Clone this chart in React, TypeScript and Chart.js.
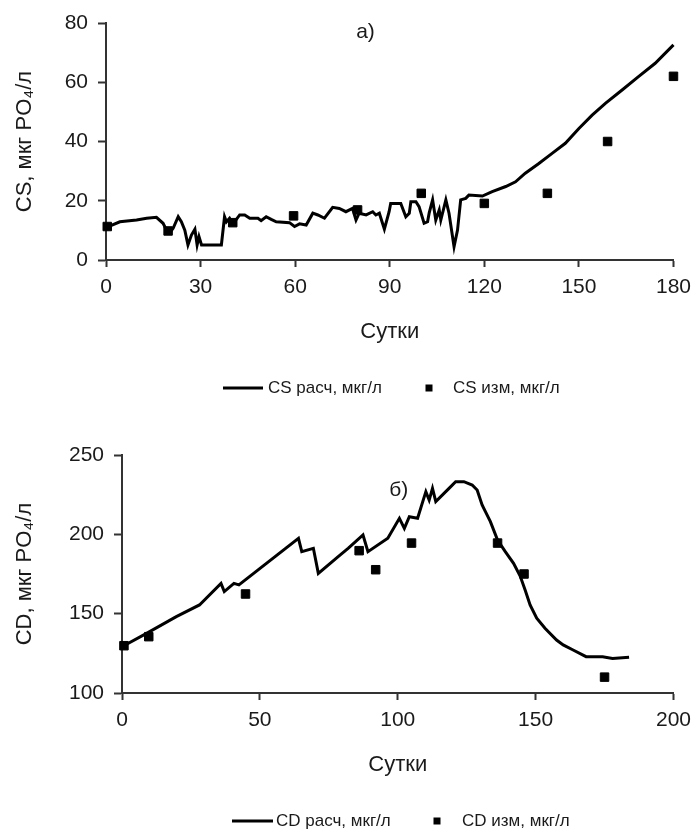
import React, { useEffect, useRef } from "react";
import { Chart, registerables } from "chart.js";

Chart.register(...registerables);

const FONT = "'Liberation Sans', Arial, Helvetica, sans-serif";
const TEXT_COLOR = "#1a1a1a";
const AXIS_COLOR = "#333333";

// ---- Panel a) CS ----
const csCalcDays = [
  0, 4.4, 9.7, 12.9, 16.0, 18.1, 19.2, 20.2, 21.3, 22.9, 23.9, 25.0, 26.0, 27.1, 28.2, 28.9, 29.5, 30.3,
  36.6, 37.6, 38.2, 39.2, 40.3, 42.4, 44.0, 45.6, 48.2, 49.2, 50.8, 52.4, 54.0, 58.2, 59.8, 61.4, 63.5,
  65.6, 67.2, 69.3, 71.9, 74.0, 76.1, 78.2, 79.3, 80.3, 82.5, 84.6, 85.6, 86.7, 88.3, 89.8, 90.3, 93.5,
  95.1, 96.2, 96.7, 98.3, 99.3, 100.9, 102.0, 102.5, 103.6, 104.6, 105.7, 106.2, 107.8, 108.8, 110.4,
  111.5, 112.5, 114.1, 115.1, 119.4, 122.5, 126.8, 129.9, 133.0, 137.3, 141.5, 145.7, 150.0, 154.2,
  158.4, 163.7, 168.9, 174.2, 180.0,
];
const csCalcValues = [
  10.9, 12.9, 13.5, 14.1, 14.4, 12.4, 10.1, 9.2, 10.7, 14.6, 12.9, 10.1, 5.1, 8.4, 10.4, 5.1, 7.9, 5.1,
  5.1, 14.6, 12.9, 14.1, 12.2, 15.2, 15.2, 14.1, 14.1, 13.3, 14.6, 13.7, 12.9, 12.6, 11.3, 12.2, 11.8,
  15.8, 15.2, 14.1, 17.8, 17.4, 16.3, 17.4, 13.5, 15.8, 15.2, 16.3, 15.2, 15.8, 10.4, 16.3, 19.1, 19.1,
  14.6, 15.8, 19.7, 19.7, 18.0, 12.4, 12.9, 15.8, 20.3, 13.5, 16.9, 13.5, 20.3, 15.8, 4.5,
  10.1, 20.3, 20.8, 21.9, 21.6, 23.1, 24.8, 26.4, 29.3, 32.6, 36.0, 39.4, 44.4, 48.9,
  52.9, 57.4, 61.9, 66.4, 72.6,
];
const csMeasDays = [0.4, 19.7, 40.2, 59.5, 79.8, 100, 120, 140, 159.1, 180];
const csMeasValues = [11.3, 9.8, 12.6, 14.9, 16.9, 22.5, 19.1, 22.5, 40, 62];

// ---- Panel б) CD ----
const cdCalcDays = [
  0.5, 8.9, 19.7, 28.1, 35.9, 37.1, 40.6, 42.4, 64.0, 65.2, 69.4, 71.2, 78.4, 82.0, 87.4, 89.2, 96.4,
  100.6, 102.4, 104.2, 107.2, 110.2, 111.4, 112.6, 113.8, 118.6, 121.0, 124.0, 127.0, 128.8, 130.6,
  131.8, 133.6, 136.2, 139.0, 142.0, 144.4, 146.2, 148.0, 150.4, 153.4, 157.6, 160.0, 163.6, 168.3,
  174.3, 177.9, 183.9,
];
const cdCalcValues = [
  129.6, 137.6, 148.1, 155.5, 169.1, 163.9, 169.1, 168.1, 197.5, 189.1, 191.2, 175.4, 185.9, 191.2, 199.6,
  189.1, 197.5, 210.1, 203.8, 211.1, 210.1, 226.9, 221.6, 229.0, 220.6, 229.0, 233.2, 233.2, 231.1, 227.9,
  218.5, 214.3, 208.0, 196.4, 189.1, 181.7, 173.7, 164.9, 155.5, 147.1, 140.8, 133.4, 130.3, 127.1, 122.9,
  122.9, 121.8, 122.5,
];
const cdMeasDays = [0.7, 9.7, 44.8, 86, 92, 105, 136.2, 145.8, 175];
const cdMeasValues = [129.8, 135.5, 162.4, 189.7, 177.7, 194.5, 194.5, 175, 110];

// ---- Texts ----
const xAxisTitle = "Сутки";
const csAxisTitle = "CS, мкг PO₄/л";
const cdAxisTitle = "CD, мкг PO₄/л";
const csLegendLabels = ["CS расч, мкг/л", "CS изм, мкг/л"];
const cdLegendLabels = ["CD расч, мкг/л", "CD изм, мкг/л"];
const csPanelLabel = "а)";
const cdPanelLabel = "б)";
const csPanelLabelPos = [82.3, 77.0];
const cdPanelLabelPos = [100.4, 228];

// ---- Axis ranges ----
const csXRange = [0, 180, 30];
const csYRange = [0, 80, 20];
const cdXRange = [0, 200, 50];
const cdYRange = [100, 250, 50];

const toPoints = (xs: number[], ys: number[]) => xs.map((x, i) => ({ x, y: ys[i] }));

const panelPlugin = {
  id: "panelExtras",
  afterDraw(chart: any) {
    const o = chart.options.plugins.panelExtras;
    if (!o) return;
    const ctx = chart.ctx;
    ctx.save();
    const xs = chart.scales.x;
    const ys = chart.scales.y;
    ctx.fillStyle = TEXT_COLOR;
    ctx.font = `21px ${FONT}`;
    ctx.textAlign = "center";
    ctx.textBaseline = "middle";
    ctx.fillText(o.panelLabel, xs.getPixelForValue(o.panelPos[0]), ys.getPixelForValue(o.panelPos[1]));
    const L = o.legend;
    ctx.strokeStyle = "#000";
    ctx.lineWidth = 3;
    ctx.beginPath();
    ctx.moveTo(L.lineX1, L.y);
    ctx.lineTo(L.lineX2, L.y);
    ctx.stroke();
    ctx.fillStyle = "#000";
    ctx.fillRect(L.sqX - 3.5, L.y - 3.5, 7, 7);
    ctx.fillStyle = TEXT_COLOR;
    ctx.font = `17px ${FONT}`;
    ctx.textAlign = "left";
    ctx.fillText(o.labels[0], L.text1X, L.y);
    ctx.fillText(o.labels[1], L.text2X, L.y);
    ctx.restore();
  },
};

function makeConfig(p: any) {
  return {
    type: "scatter",
    data: {
      datasets: [
        {
          label: p.labels[0],
          data: toPoints(p.calcX, p.calcY),
          showLine: true,
          borderColor: "#000",
          borderWidth: 3,
          pointRadius: 0,
          tension: 0,
          order: 1,
          clip: false,
        },
        {
          label: p.labels[1],
          data: toPoints(p.measX, p.measY),
          showLine: false,
          pointStyle: "rect",
          pointRadius: 6,
          backgroundColor: "#000",
          borderColor: "#000",
          borderWidth: 1,
          order: 0,
          clip: false,
        },
      ],
    },
    options: {
      responsive: false,
      animation: false,
      devicePixelRatio: 1,
      layout: { padding: { left: 0, right: p.padRight, top: p.padTop, bottom: p.padBottom } },
      plugins: {
        legend: { display: false },
        tooltip: { enabled: false },
        panelExtras: {
          labels: p.labels,
          panelLabel: p.panelLabel,
          panelPos: p.panelPos,
          legend: p.legend,
        },
      },
      scales: {
        x: {
          type: "linear",
          min: p.xRange[0],
          max: p.xRange[1],
          ticks: { stepSize: p.xRange[2], font: { family: FONT, size: 21 }, color: TEXT_COLOR, padding: 8 },
          grid: { drawOnChartArea: false, drawTicks: true, tickLength: 7, tickColor: AXIS_COLOR, tickWidth: 2 },
          border: { display: true, color: AXIS_COLOR, width: 2 },
          title: {
            display: true,
            text: xAxisTitle,
            font: { family: FONT, size: 22 },
            color: TEXT_COLOR,
            padding: { top: 0, bottom: 0 },
          },
          afterFit: (s: any) => {
            s.height = p.xScaleHeight;
          },
        },
        y: {
          type: "linear",
          min: p.yRange[0],
          max: p.yRange[1],
          ticks: { stepSize: p.yRange[2], font: { family: FONT, size: 21 }, color: TEXT_COLOR, padding: 10 },
          grid: { drawOnChartArea: false, drawTicks: true, tickLength: 8, tickColor: AXIS_COLOR, tickWidth: 2 },
          border: { display: true, color: AXIS_COLOR, width: 2 },
          title: {
            display: true,
            text: p.yTitle,
            font: { family: FONT, size: 22 },
            color: TEXT_COLOR,
            padding: { top: 12, bottom: 0 },
          },
          afterFit: (s: any) => {
            s.width = p.yScaleWidth;
          },
        },
      },
    },
    plugins: [panelPlugin],
  };
}

function Panel(props: { p: any; height: number }) {
  const ref = useRef<HTMLCanvasElement | null>(null);
  useEffect(() => {
    if (!ref.current) return;
    const chart = new Chart(ref.current, makeConfig(props.p) as any);
    return () => chart.destroy();
  }, []);
  return (
    <canvas
      ref={ref}
      width={699}
      height={props.height}
      style={{ display: "block", width: 699, height: props.height }}
    />
  );
}

const topPanel = {
  calcX: csCalcDays,
  calcY: csCalcValues,
  measX: csMeasDays,
  measY: csMeasValues,
  labels: csLegendLabels,
  yTitle: csAxisTitle,
  panelLabel: csPanelLabel,
  panelPos: csPanelLabelPos,
  xRange: csXRange,
  yRange: csYRange,
  padRight: 24,
  padTop: 23,
  padBottom: 432 - 260 - 85.2,
  xScaleHeight: 85.2,
  yScaleWidth: 106,
  legend: { lineX1: 223, lineX2: 263, y: 388, text1X: 268, sqX: 429, text2X: 453 },
};

const bottomPanel = {
  calcX: cdCalcDays,
  calcY: cdCalcValues,
  measX: cdMeasDays,
  measY: cdMeasValues,
  labels: cdLegendLabels,
  yTitle: cdAxisTitle,
  panelLabel: cdPanelLabel,
  panelPos: cdPanelLabelPos,
  xRange: cdXRange,
  yRange: cdYRange,
  padRight: 21,
  padTop: 23,
  padBottom: 399 - 261 - 85.2,
  xScaleHeight: 85.2,
  yScaleWidth: 122,
  legend: { lineX1: 232, lineX2: 273, y: 389, text1X: 276, sqX: 437, text2X: 462 },
};

export default function App() {
  return (
    <div style={{ position: "absolute", left: 0, top: 0, width: 699, height: 831, background: "#fff" }}>
      <Panel p={topPanel} height={432} />
      <Panel p={bottomPanel} height={399} />
    </div>
  );
}
